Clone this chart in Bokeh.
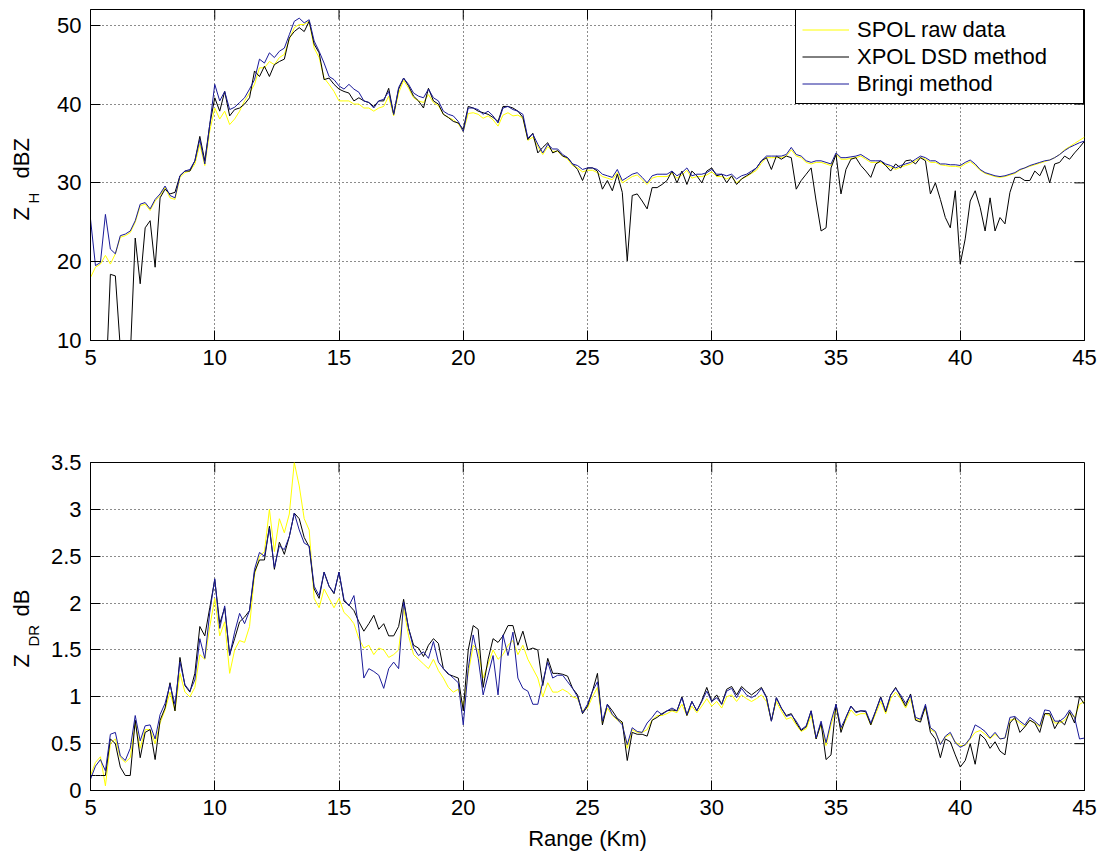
import numpy as np
from bokeh.plotting import figure
from bokeh.layouts import column, row
from bokeh.models import FixedTicker, Legend, LegendItem, Label, Range1d
from bokeh.embed import file_html
from bokeh.resources import INLINE

# ---------------- data ----------------
range_km = np.round(np.arange(5.0, 45.0001, 0.2), 1)

series_names = ["SPOL raw data", "XPOL DSD method", "Bringi method"]

x_ticks = [5, 10, 15, 20, 25, 30, 35, 40, 45]
x_tick_labels = ["5", "10", "15", "20", "25", "30", "35", "40", "45"]
zh_ticks = [10, 20, 30, 40, 50]
zh_tick_labels = ["10", "20", "30", "40", "50"]
zdr_ticks = [0, 0.5, 1, 1.5, 2, 2.5, 3, 3.5]
zdr_tick_labels = ["0", "0.5", "1", "1.5", "2", "2.5", "3", "3.5"]

zh_spol = [
    18.0, 19.3, 19.7, 20.8, 19.7, 21.0, 23.1, 23.3, 23.7, 25.0,
    27.1, 27.3, 26.5, 27.7, 28.4, 29.4, 28.1, 27.9, 30.7, 31.3,
    31.5, 32.4, 34.9, 32.2, 36.6, 39.5, 38.1, 39.1, 37.4, 38.1,
    39.1, 40.4, 41.4, 42.5, 44.6, 44.6, 45.4, 45.0, 45.9, 46.3,
    48.2, 49.7, 50.1, 50.1, 50.5, 47.1, 45.9, 43.3, 42.5, 41.6,
    40.4, 40.4, 40.4, 40.0, 40.0, 39.5, 39.5, 39.1, 39.5, 39.7,
    41.0, 38.5, 41.4, 43.0, 42.0, 40.8, 40.4, 40.2, 41.2, 40.2,
    39.8, 38.7, 38.3, 38.0, 37.5, 36.5, 38.8, 38.9, 38.7, 38.2,
    38.5, 38.0, 37.2, 38.6, 38.9, 38.5, 38.6, 38.2, 35.4, 35.8,
    34.6, 33.6, 34.6, 34.0, 34.0, 33.4, 33.0, 32.2, 31.9, 31.4,
    31.6, 31.6, 31.3, 30.8, 30.6, 30.4, 31.3, 30.0, 30.4, 30.8,
    31.0, 30.4, 29.8, 30.6, 30.8, 30.8, 30.8, 31.2, 30.6, 31.0,
    31.6, 30.6, 30.8, 30.8, 31.0, 31.4, 30.8, 30.8, 30.5, 30.8,
    30.0, 30.5, 30.8, 31.2, 31.6, 32.5, 33.2, 33.2, 33.2, 33.2,
    33.4, 34.2, 33.4, 33.2, 32.6, 32.4, 32.6, 32.6, 32.4, 32.2,
    33.6, 33.0, 33.0, 33.1, 33.2, 33.4, 33.0, 32.6, 32.6, 32.6,
    32.2, 32.0, 31.7, 32.0, 32.2, 32.4, 32.8, 33.2, 33.0, 32.6,
    32.6, 32.3, 32.2, 32.1, 32.1, 32.0, 32.4, 32.7, 32.2, 31.6,
    31.2, 31.0, 30.8, 30.7, 30.8, 31.0, 31.2, 31.6, 31.9, 32.1,
    32.3, 32.5, 32.7, 32.9, 33.2, 33.6, 34.2, 34.6, 35.0, 35.4,
    35.8,
]

zh_xpol = [
    3.0, 3.0, 3.0, 3.0, 18.4, 18.2, 9.0, 3.0, 8.0, 23.0,
    17.2, 24.3, 25.2, 19.3, 28.1, 29.2, 28.6, 28.8, 30.9, 31.5,
    31.5, 32.8, 35.9, 32.8, 37.4, 40.8, 39.1, 41.6, 38.5, 39.3,
    39.5, 40.0, 40.8, 44.2, 43.5, 44.8, 43.5, 45.0, 45.4, 45.7,
    48.4, 49.2, 49.7, 49.2, 50.5, 47.6, 46.5, 43.1, 43.3, 42.5,
    41.9, 41.6, 41.4, 40.4, 40.8, 40.4, 40.2, 39.7, 40.4, 40.4,
    42.0, 38.7, 41.9, 43.3, 42.3, 41.0, 40.4, 39.5, 42.0, 40.4,
    40.0, 38.7, 38.3, 37.8, 37.6, 36.8, 39.7, 39.5, 39.1, 38.9,
    38.7, 38.3, 37.8, 39.7, 39.7, 39.5, 39.1, 38.3, 35.5, 36.3,
    33.8, 34.5, 35.1, 33.8, 34.1, 33.4, 33.2, 32.4, 31.7, 30.3,
    31.9, 31.9, 31.5, 29.2, 30.3, 29.0, 31.1, 28.8, 20.1, 28.4,
    28.6, 27.7, 26.7, 29.4, 29.4, 29.8, 30.3, 31.5, 30.0, 31.5,
    29.8, 31.5, 30.9, 30.0, 31.5, 31.9, 30.9, 31.1, 30.0, 30.9,
    29.8, 30.5, 30.9, 31.3, 31.9, 32.8, 33.2, 31.7, 33.4, 33.0,
    33.4, 33.2, 29.2, 30.3, 31.1, 31.9, 27.7, 23.9, 24.3, 31.9,
    33.6, 28.6, 31.7, 33.0, 33.2, 32.2, 31.5, 30.7, 32.4, 32.8,
    32.2, 31.5, 32.4, 31.9, 32.8, 32.9, 32.4, 33.2, 32.8, 28.6,
    30.0, 27.9, 25.6, 24.3, 29.0, 19.7, 22.9, 27.7, 29.0, 26.9,
    23.9, 28.1, 23.9, 25.6, 24.8, 28.8, 30.7, 30.7, 30.3, 30.3,
    31.5, 30.9, 32.2, 30.0, 32.4, 32.6, 33.4, 33.0, 33.8, 34.5,
    35.3,
]

zh_bringi = [
    25.4, 19.5, 19.9, 26.0, 21.6, 21.0, 23.3, 23.5, 23.9, 25.2,
    27.3, 27.5, 26.7, 27.9, 28.6, 29.6, 28.4, 28.1, 30.9, 31.5,
    31.7, 32.8, 35.5, 32.4, 37.4, 42.5, 40.4, 41.6, 39.3, 39.6,
    40.2, 40.8, 41.9, 43.1, 45.7, 45.2, 46.5, 45.9, 46.7, 47.1,
    48.8, 50.5, 50.9, 50.3, 50.7, 48.0, 46.7, 45.2, 43.5, 43.1,
    42.3, 41.9, 42.5, 41.9, 41.5, 40.4, 40.2, 39.5, 40.4, 40.6,
    41.6, 38.7, 42.1, 43.3, 42.5, 41.4, 41.0, 40.8, 41.9, 40.8,
    40.4, 39.1, 38.7, 38.5, 37.8, 36.5, 39.5, 39.5, 39.3, 38.7,
    39.1, 38.5, 37.6, 39.5, 39.7, 39.3, 39.1, 38.7, 35.7, 36.2,
    34.9, 33.8, 34.9, 34.3, 34.3, 33.6, 33.2, 32.4, 32.2, 31.7,
    31.9, 31.9, 31.7, 31.1, 30.9, 30.7, 31.7, 30.3, 30.7, 31.1,
    31.3, 30.7, 30.0, 30.9, 31.1, 31.1, 31.1, 31.5, 30.9, 31.3,
    31.9, 30.9, 31.1, 31.1, 31.3, 31.7, 31.1, 31.1, 30.9, 31.1,
    30.5, 30.9, 31.1, 31.5, 31.9, 32.8, 33.4, 33.4, 33.4, 33.4,
    33.6, 34.5, 33.6, 33.4, 32.8, 32.6, 32.8, 32.8, 32.6, 32.4,
    33.8, 33.2, 33.2, 33.3, 33.4, 33.6, 33.2, 32.8, 32.8, 32.8,
    32.4, 32.2, 31.9, 32.2, 32.4, 32.6, 33.0, 33.4, 33.2, 32.8,
    32.8, 32.4, 32.4, 32.3, 32.3, 32.2, 32.6, 32.9, 32.4, 31.7,
    31.3, 31.1, 30.9, 30.8, 30.9, 31.1, 31.3, 31.7, 31.9, 32.2,
    32.4, 32.6, 32.8, 32.9, 33.2, 33.6, 34.1, 34.5, 34.8, 35.1,
    35.3,
]

zdr_spol = [
    0.16, 0.30, 0.36, 0.05, 0.50, 0.55, 0.35, 0.30, 0.35, 0.72,
    0.45, 0.65, 0.65, 0.50, 0.72, 0.86, 1.05, 0.85, 1.25, 1.05,
    1.00, 1.10, 1.45, 1.40, 1.75, 2.05, 1.65, 1.80, 1.25, 1.50,
    1.60, 1.58, 1.75, 2.30, 2.50, 2.55, 3.00, 2.55, 2.90, 2.75,
    2.95, 3.50, 3.25, 2.90, 2.78, 2.05, 1.95, 2.15, 2.05, 1.95,
    2.05, 1.90, 1.85, 1.78, 1.62, 1.52, 1.55, 1.45, 1.52, 1.50,
    1.42, 1.45, 1.50, 1.95, 1.65, 1.45, 1.40, 1.35, 1.30, 1.40,
    1.28, 1.20, 1.10, 1.05, 1.08, 0.90, 1.25, 1.55, 1.50, 1.20,
    1.35, 1.50, 1.40, 1.45, 1.55, 1.60, 1.45, 1.55, 1.40, 1.30,
    1.20, 1.00, 1.15, 1.05, 1.05, 1.08, 1.05, 1.00, 0.98, 0.85,
    0.88, 1.00, 1.10, 0.72, 0.88, 0.80, 0.75, 0.72, 0.45, 0.65,
    0.62, 0.62, 0.65, 0.75, 0.80, 0.80, 0.82, 0.85, 0.83, 0.92,
    0.80, 0.90, 0.83, 0.90, 0.98, 0.90, 0.95, 0.88, 1.00, 1.02,
    0.95, 1.02, 0.98, 0.95, 0.98, 1.02, 0.95, 0.75, 0.95, 0.85,
    0.76, 0.78, 0.70, 0.63, 0.66, 0.80, 0.55, 0.70, 0.48, 0.70,
    0.88, 0.65, 0.75, 0.86, 0.80, 0.82, 0.82, 0.70, 0.82, 0.95,
    0.82, 0.98, 1.05, 0.98, 0.88, 0.98, 0.76, 0.75, 0.88, 0.65,
    0.62, 0.50, 0.57, 0.60, 0.52, 0.48, 0.48, 0.55, 0.62, 0.64,
    0.60, 0.55, 0.60, 0.55, 0.56, 0.75, 0.76, 0.72, 0.68, 0.75,
    0.72, 0.68, 0.82, 0.80, 0.72, 0.72, 0.75, 0.82, 0.78, 0.92,
    0.95,
]

zdr_xpol = [
    0.16, 0.16, 0.16, 0.16, 0.55, 0.50, 0.25, 0.16, 0.16, 0.75,
    0.35, 0.62, 0.65, 0.33, 0.75, 0.88, 1.15, 0.85, 1.42, 1.12,
    1.05, 1.25, 1.75, 1.65, 1.95, 2.25, 1.78, 1.95, 1.45, 1.62,
    1.80, 1.85, 1.92, 2.33, 2.46, 2.46, 2.82, 2.36, 2.65, 2.52,
    2.71, 2.96, 2.90, 2.70, 2.60, 2.15, 2.05, 2.33, 2.18, 2.10,
    2.33, 2.02, 1.98, 1.92, 1.80, 1.70, 1.78, 1.87, 1.72, 1.78,
    1.65, 1.65, 1.75, 2.04, 1.73, 1.55, 1.52, 1.43, 1.55, 1.62,
    1.57, 1.30, 1.24, 1.22, 1.20, 0.85, 1.50, 1.76, 1.72, 1.10,
    1.40, 1.62, 1.58, 1.65, 1.76, 1.76, 1.55, 1.70, 1.50, 1.52,
    1.50, 1.12, 1.41, 1.25, 1.25, 1.24, 1.22, 1.09, 1.02, 0.82,
    0.90, 1.06, 1.25, 0.70, 0.92, 0.85, 0.77, 0.73, 0.32, 0.62,
    0.60, 0.60, 0.58, 0.75, 0.78, 0.82, 0.85, 0.86, 0.85, 1.00,
    0.80, 0.95, 0.85, 0.96, 1.10, 0.95, 1.02, 0.92, 1.08, 1.11,
    1.02, 1.11, 1.06, 1.02, 1.06, 1.10, 1.00, 0.74, 0.99, 0.88,
    0.80, 0.82, 0.72, 0.64, 0.68, 0.85, 0.55, 0.72, 0.33, 0.38,
    0.92, 0.62, 0.78, 0.90, 0.84, 0.85, 0.84, 0.70, 0.85, 1.00,
    0.84, 1.02, 1.10, 1.00, 0.90, 1.03, 0.75, 0.73, 0.90, 0.62,
    0.55, 0.35, 0.55, 0.52, 0.38, 0.25, 0.32, 0.50, 0.28, 0.60,
    0.55, 0.45, 0.52, 0.42, 0.38, 0.72, 0.78, 0.62, 0.68, 0.75,
    0.72, 0.62, 0.82, 0.82, 0.66, 0.75, 0.70, 0.84, 0.72, 1.00,
    0.92,
]

zdr_bringi = [
    0.12, 0.26, 0.33, 0.21, 0.60, 0.62, 0.37, 0.32, 0.45, 0.80,
    0.53, 0.69, 0.70, 0.55, 0.81, 0.93, 1.13, 0.92, 1.37, 1.13,
    1.06, 1.18, 1.62, 1.41, 1.90, 2.26, 1.73, 1.97, 1.44, 1.69,
    1.89, 1.78, 1.92, 2.36, 2.54, 2.50, 2.80, 2.38, 2.61, 2.57,
    2.71, 2.96, 2.78, 2.64, 2.61, 2.18, 2.08, 2.33, 2.18, 2.11,
    2.33, 2.04, 1.97, 2.08, 1.73, 1.20, 1.30, 1.27, 1.23, 1.09,
    1.30, 1.37, 1.30, 2.01, 1.73, 1.52, 1.44, 1.48, 1.41, 1.59,
    1.37, 1.30, 1.25, 1.20, 1.15, 0.70, 1.30, 1.66, 1.41, 1.02,
    1.23, 1.44, 1.02, 1.66, 1.44, 1.69, 1.20, 1.09, 1.06, 0.92,
    0.92, 1.16, 1.37, 1.20, 1.23, 1.23, 1.16, 1.09, 1.00, 0.83,
    0.92, 1.06, 1.16, 0.74, 0.92, 0.81, 0.76, 0.70, 0.49, 0.67,
    0.63, 0.62, 0.72, 0.78, 0.85, 0.81, 0.85, 0.88, 0.85, 0.99,
    0.81, 0.95, 0.85, 0.95, 1.06, 0.95, 0.99, 0.92, 1.06, 1.09,
    0.99, 1.09, 1.02, 0.99, 1.02, 1.09, 0.99, 0.74, 0.99, 0.88,
    0.79, 0.81, 0.74, 0.65, 0.69, 0.85, 0.56, 0.74, 0.51, 0.74,
    0.92, 0.67, 0.78, 0.90, 0.83, 0.85, 0.85, 0.72, 0.85, 0.99,
    0.85, 1.02, 1.09, 1.02, 0.93, 1.02, 0.78, 0.76, 0.92, 0.67,
    0.63, 0.49, 0.58, 0.62, 0.51, 0.46, 0.49, 0.56, 0.70, 0.67,
    0.63, 0.56, 0.62, 0.55, 0.56, 0.78, 0.79, 0.74, 0.70, 0.78,
    0.74, 0.69, 0.86, 0.85, 0.74, 0.74, 0.78, 0.86, 0.78, 0.55,
    0.56,
]

# ---------------- style / layout ----------------
FONT = "Liberation Sans"
FS = "22px"
C_SPOL = "#ffff00"
C_XPOL = "#000000"
C_BRINGI = "#1a1a99"

SIDE_W = 46          # width of the strip that carries the y titles
MAIN_W = 1054
BORDER_L = 44
BORDER_R = 16
FRAME_W = MAIN_W - BORDER_L - BORDER_R
FRAME_H = 331
TICK_LEN = 10
X_SHIFT = -9         # calibration of the strip's label anchors


def style_axis(ax, ticks, labels):
    ax.ticker = FixedTicker(ticks=ticks)
    ax.major_label_overrides = dict(zip(ticks, labels))
    ax.major_tick_in = TICK_LEN
    ax.major_tick_out = 0
    ax.minor_tick_in = 0
    ax.minor_tick_out = 0
    ax.axis_line_color = "black"
    ax.major_tick_line_color = "black"
    ax.major_label_text_font = FONT
    ax.major_label_text_color = "black"
    ax.major_label_text_font_size = FS
    ax.major_label_standoff = 9


def make_fig(height, min_top, min_bottom, y0, y1, yticks, ylabels):
    p = figure(width=MAIN_W, height=height, x_range=Range1d(5, 45), y_range=Range1d(y0, y1),
               output_backend="svg", toolbar_location=None,
               min_border_left=BORDER_L, min_border_right=BORDER_R,
               min_border_top=min_top, min_border_bottom=min_bottom)
    p.background_fill_color = "white"
    p.border_fill_color = "white"
    p.outline_line_color = "black"
    p.outline_line_width = 1
    p.outline_line_alpha = 1
    xax = p.below[0]
    yax = p.left[0]
    style_axis(xax, x_ticks, x_tick_labels)
    style_axis(yax, yticks, ylabels)
    p.xgrid.ticker = FixedTicker(ticks=x_ticks)
    p.ygrid.ticker = FixedTicker(ticks=yticks)
    for g in (p.xgrid[0], p.ygrid[0]):
        g.grid_line_color = "black"
        g.grid_line_dash = "1 3"
        g.grid_line_width = 1
        g.grid_line_alpha = 0.9
    # inward ticks on the top and right edges of the box (MATLAB "box on")
    dy = (y1 - y0) / FRAME_H * TICK_LEN
    dx = (45 - 5) / FRAME_W * TICK_LEN
    p.segment(x0=x_ticks, y0=[y1] * len(x_ticks), x1=x_ticks, y1=[y1 - dy] * len(x_ticks),
              line_color="black", line_width=1)
    p.segment(x0=[45] * len(yticks), y0=yticks, x1=[45 - dx] * len(yticks), y1=yticks,
              line_color="black", line_width=1)
    return p, xax


def side_strip(height, min_top, min_bottom, parts):
    s = figure(width=SIDE_W, height=height, x_range=Range1d(0, SIDE_W), y_range=Range1d(0, FRAME_H),
               output_backend="svg", toolbar_location=None,
               x_axis_type=None, y_axis_type=None,
               min_border_left=0, min_border_right=0,
               min_border_top=min_top, min_border_bottom=min_bottom)
    s.outline_line_color = None
    s.grid.visible = False
    s.background_fill_color = "white"
    s.border_fill_color = "white"
    for text, px, sy, fs in parts:
        s.add_layout(Label(x=px + X_SHIFT, y=sy, x_units="screen", y_units="screen", text=text,
                           angle=np.pi / 2, text_font=FONT, text_font_size=fs,
                           text_color="black", text_align="left",
                           text_baseline="alphabetic"))
    return s


# ---------------- top panel: Z_H ----------------
H1, T1, B1 = 385, 9, 45
p1, x1ax = make_fig(H1, T1, B1, 10, 52, zh_ticks, zh_tick_labels)
r1 = p1.line(range_km, zh_spol, line_color=C_SPOL, line_width=1)
r2 = p1.line(range_km, zh_xpol, line_color=C_XPOL, line_width=1)
r3 = p1.line(range_km, zh_bringi, line_color=C_BRINGI, line_width=1)

legend = Legend(items=[LegendItem(label=series_names[0], renderers=[r1]),
                       LegendItem(label=series_names[1], renderers=[r2]),
                       LegendItem(label=series_names[2], renderers=[r3])],
                location="top_right", margin=0, padding=6, spacing=0,
                glyph_width=47, glyph_height=27, label_height=27, label_width=220,
                label_standoff=8, label_text_font=FONT, label_text_font_size=FS,
                label_text_color="black",
                border_line_color="black", border_line_width=1, border_line_alpha=1,
                background_fill_color="white", background_fill_alpha=1)
p1.add_layout(legend)

fb1 = T1 + FRAME_H   # page y of the frame bottom
s1 = side_strip(H1, T1, B1, [("Z", 30, fb1 - 220, FS), ("H", 42, fb1 - 203, "15px"),
                             ("dBZ", 30, fb1 - 178, FS)])

# ---------------- bottom panel: Z_DR ----------------
H2, T2, B2 = 468, 77, 60
p2, x2ax = make_fig(H2, T2, B2, 0, 3.5, zdr_ticks, zdr_tick_labels)
p2.line(range_km, zdr_spol, line_color=C_SPOL, line_width=1)
p2.line(range_km, zdr_xpol, line_color=C_XPOL, line_width=1)
p2.line(range_km, zdr_bringi, line_color=C_BRINGI, line_width=1)
x2ax.axis_label = "Range (Km)"
x2ax.axis_label_text_font = FONT
x2ax.axis_label_text_font_size = FS
x2ax.axis_label_text_font_style = "normal"
x2ax.axis_label_text_color = "black"
x2ax.axis_label_standoff = 8

fb2 = H1 + T2 + FRAME_H
s2 = side_strip(H2, T2, B2, [("Z", 30, fb2 - 670, FS), ("DR", 42, fb2 - 649, "15px"),
                             ("dB", 30, fb2 - 619, FS)])

layout = column(row(s1, p1, spacing=0), row(s2, p2, spacing=0), spacing=0)

open("out.html", "w").write(file_html(layout, INLINE))
